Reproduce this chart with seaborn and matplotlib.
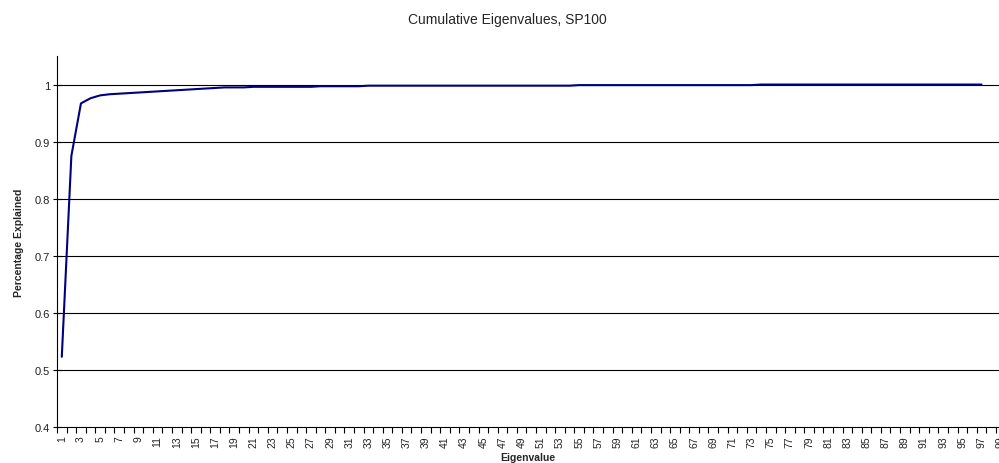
import seaborn as sns
import numpy as np
import matplotlib.pyplot as plt
import pandas as pd

# cumulative share of variance explained by the first k eigenvalues
eigen_values = [
    0.523, 0.875, 0.967, 0.976, 0.981, 0.983, 0.984, 0.985, 0.986, 0.987,
    0.988, 0.989, 0.990, 0.991, 0.992, 0.993, 0.994, 0.995, 0.995, 0.995,
    0.996, 0.996, 0.996, 0.996, 0.996, 0.996, 0.996, 0.997, 0.997, 0.997,
    0.997, 0.997, 0.998, 0.998, 0.998, 0.998, 0.998, 0.998, 0.998, 0.998,
    0.998, 0.998, 0.998, 0.998, 0.998, 0.998, 0.998, 0.998, 0.998, 0.998,
    0.998, 0.998, 0.998, 0.998, 0.999, 0.999, 0.999, 0.999, 0.999, 0.999,
    0.999, 0.999, 0.999, 0.999, 0.999, 0.999, 0.999, 0.999, 0.999, 0.999,
    0.999, 0.999, 0.999, 1.000, 1.000, 1.000, 1.000, 1.000, 1.000, 1.000,
    1.000, 1.000, 1.000, 1.000, 1.000, 1.000, 1.000, 1.000, 1.000, 1.000,
    1.000, 1.000, 1.000, 1.000, 1.000, 1.000, 1.000,
]
eigen_index = list(range(1, len(eigen_values) + 1))
n_categories = 100
y_ticks = [0.4, 0.5, 0.6, 0.7, 0.8, 0.9, 1.0]
y_tick_labels = ['0.4', '0.5', '0.6', '0.7', '0.8', '0.9', '1']

sns.set_theme(style='white')
plt.rcParams['font.family'] = ['Liberation Sans', 'DejaVu Sans']

df = pd.DataFrame({'Eigenvalue': eigen_index, 'Explained': eigen_values})

fig = plt.figure(figsize=(9.99, 4.64), dpi=100)
# axes run a little past the right edge, like the cropped original
ax = fig.add_axes([57 / 999, 36 / 464, 958 / 999, 371 / 464])

for y in y_ticks[1:]:
    ax.axhline(y, color='black', linewidth=0.8, zorder=1)

sns.lineplot(data=df, x='Eigenvalue', y='Explained', ax=ax,
             color='#000080', linewidth=1.5, zorder=3)

ax.set_xlim(0.5, n_categories + 0.5)
ax.set_ylim(0.4, 1.05)

ax.set_yticks(y_ticks)
ax.set_yticklabels(y_tick_labels, fontsize=8, color='#222222')
odd = list(range(1, n_categories + 1, 2))
ax.set_xticks(odd)
ax.set_xticklabels([str(i) for i in odd], rotation=90, fontsize=7.5, color='#222222')
ax.set_xticks(np.arange(0.5, n_categories + 1, 1.0), minor=True)
ax.tick_params(axis='x', which='major', length=0, pad=6)
ax.tick_params(axis='x', which='minor', length=4, width=0.8, color='black', direction='out', bottom=True)
ax.tick_params(axis='y', which='major', length=6, width=0.8, color='black', direction='inout', left=True, pad=2)

for s in ['top', 'right']:
    ax.spines[s].set_visible(False)
for s in ['left', 'bottom']:
    ax.spines[s].set_color('black')
    ax.spines[s].set_linewidth(0.8)

ax.set_xlabel('')
ax.set_ylabel('Percentage Explained', fontsize=7.5, fontweight='bold', labelpad=8)
fig.text(528 / 999, 1 - 458 / 464, 'Eigenvalue', ha='center', va='center', fontsize=7.5, fontweight='bold')
fig.text(507 / 999, 1 - 20 / 464, 'Cumulative Eigenvalues, SP100', ha='center', va='center', fontsize=10)

plt.savefig('out.png', dpi=100)
